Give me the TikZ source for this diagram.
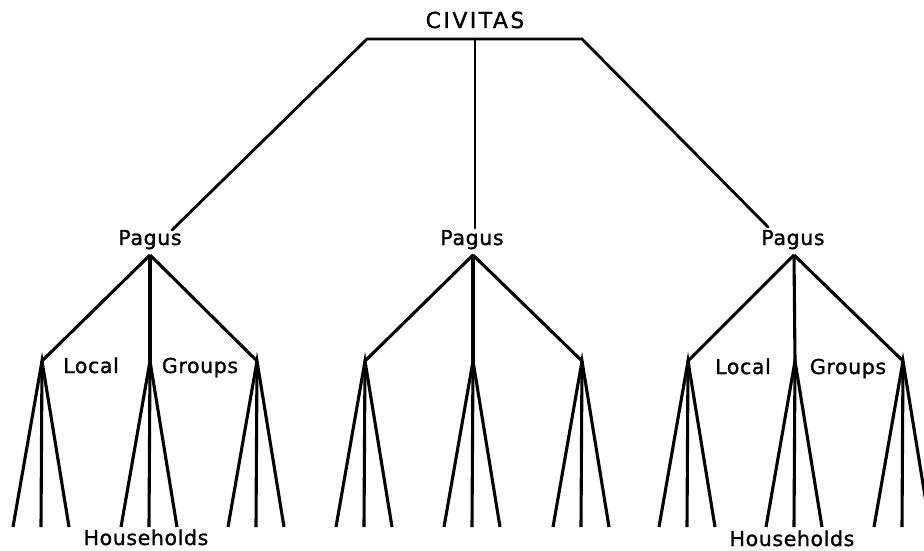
\documentclass[tikz,border=0pt]{standalone}
\usepackage{fontspec}
\newfontfamily\labfont[LetterSpace=3,FakeBold=1.2]{DejaVu Sans}
\newfontfamily\topfont[LetterSpace=11,FakeBold=1]{DejaVu Sans}
\begin{document}
\begin{tikzpicture}[x=1pt,y=-1pt,
  upper/.style={line width=2.8pt,line cap=round,line join=miter},
  lower/.style={line width=3.1pt},
  lab/.style={anchor=base,inner sep=0pt,font=\labfont\fontsize{20.5}{22}\selectfont},
  toplab/.style={anchor=base,inner sep=0pt,font=\topfont\fontsize{22}{24}\selectfont}]
\useasboundingbox (0,0) rectangle (924,550);
\fill[white] (0,0) rectangle (924,550);
% top
\node[toplab] (civ) at (475,28) {CIVITAS};
\coordinate (barL) at (367,39);
\coordinate (barM) at (475,39);
\coordinate (barR) at (582,39);
% pagus labels
\node[lab] (p1) at (150,245) {Pagus};
\node[lab] (p2) at (472,245) {Pagus};
\node[lab] (p3) at (793,245) {Pagus};
\coordinate (e1) at (172,230);
\coordinate (e2) at (475,228);
\coordinate (e3) at (768,227);
\draw[upper] (e1) -- (barL) -- (barR) -- (e3);
\draw[upper] (barM) -- (e2);
% pagus apexes
\coordinate (a1) at (150,255);
\coordinate (a2) at (473,255);
\coordinate (a3) at (794,255);
% local group apexes
\foreach \n/\x/\p in {11/42/1,12/150/1,13/257/1,21/365/2,22/473/2,23/582/2,31/688/3,32/795/3,33/903/3}{
  \coordinate (g\n) at (\x,361);
  \coordinate (h\n a) at (\x-29,527);
  \coordinate (h\n b) at (\x-1,527);
  \coordinate (h\n c) at (\x+27,527);
  \draw[lower] (a\p) -- (g\n);
  \draw[lower] (h\n a) -- (g\n) -- (h\n c);
  \draw[lower] (g\n) -- (h\n b);
}
% labels
\node[lab] (loc1) at (91,373) {Local};
\node[lab] (grp1) at (200,373) {Groups};
\node[lab] (loc3) at (743,374) {Local};
\node[lab] (grp3) at (848,374) {Groups};
\node[lab] (hh1) at (146,545) {Households};
\node[lab] (hh3) at (792,546) {Households};
\end{tikzpicture}
\end{document}
